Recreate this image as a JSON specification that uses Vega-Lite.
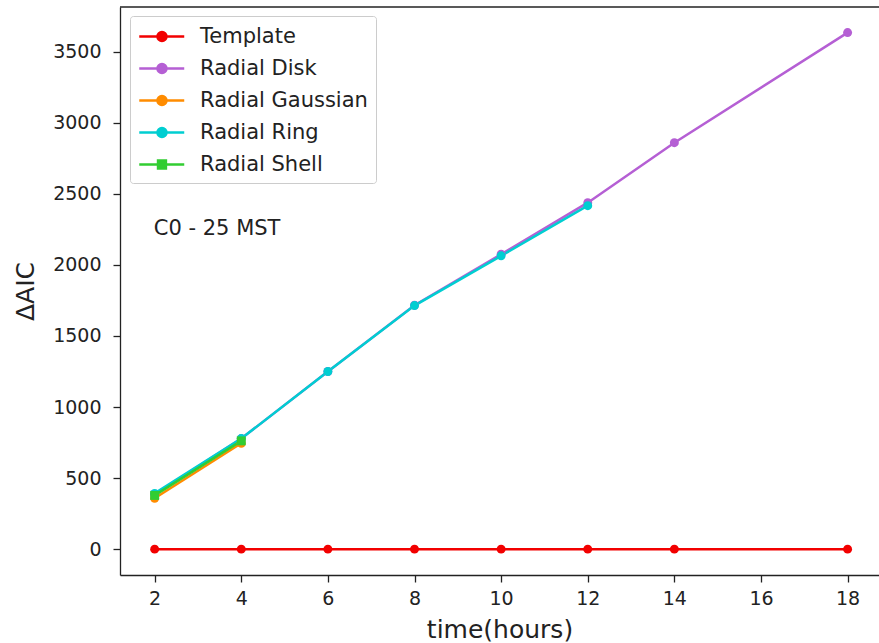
{
  "$schema": "https://vega.github.io/schema/vega-lite/v6.json",
  "autosize": {"type": "none"},
  "padding": {"left": 120, "top": 7, "right": 0, "bottom": 68},
  "width": 759,
  "height": 568,
  "config": {
    "view": {"stroke": null},
    "font": "DejaVu Sans",
    "axis": {
      "labelFont": "DejaVu Sans",
      "titleFont": "DejaVu Sans",
      "labelFontSize": 19,
      "labelColor": "#222",
      "titleColor": "#222",
      "titleFontWeight": "normal",
      "domainColor": "#222",
      "domainWidth": 1.3,
      "tickColor": "#222",
      "tickSize": 7,
      "tickWidth": 1.3,
      "grid": false
    }
  },
  "datasets": {
    "main": [
      {"time": 2, "daic": 0, "series": "Template"},
      {"time": 4, "daic": 0, "series": "Template"},
      {"time": 6, "daic": 0, "series": "Template"},
      {"time": 8, "daic": 0, "series": "Template"},
      {"time": 10, "daic": 0, "series": "Template"},
      {"time": 12, "daic": 0, "series": "Template"},
      {"time": 14, "daic": 0, "series": "Template"},
      {"time": 18, "daic": 0, "series": "Template"},
      {"time": 2, "daic": 385, "series": "Radial Disk"},
      {"time": 4, "daic": 778, "series": "Radial Disk"},
      {"time": 6, "daic": 1250, "series": "Radial Disk"},
      {"time": 8, "daic": 1716, "series": "Radial Disk"},
      {"time": 10, "daic": 2075, "series": "Radial Disk"},
      {"time": 12, "daic": 2438, "series": "Radial Disk"},
      {"time": 14, "daic": 2860, "series": "Radial Disk"},
      {"time": 18, "daic": 3635, "series": "Radial Disk"},
      {"time": 2, "daic": 358, "series": "Radial Gaussian"},
      {"time": 4, "daic": 745, "series": "Radial Gaussian"},
      {"time": 2, "daic": 392, "series": "Radial Ring"},
      {"time": 4, "daic": 778, "series": "Radial Ring"},
      {"time": 6, "daic": 1250, "series": "Radial Ring"},
      {"time": 8, "daic": 1714, "series": "Radial Ring"},
      {"time": 10, "daic": 2064, "series": "Radial Ring"},
      {"time": 12, "daic": 2417, "series": "Radial Ring"},
      {"time": 2, "daic": 378, "series": "Radial Shell"},
      {"time": 4, "daic": 762, "series": "Radial Shell"}
    ]
  },
  "layer": [
    {
      "data": {"values": [{"top": 3815}]},
      "mark": {"type": "rule", "color": "#222", "strokeWidth": 1.3},
      "encoding": {"y": {"field": "top", "type": "quantitative"}}
    },
    {
      "data": {"name": "main"},
      "mark": {"type": "line", "strokeWidth": 2.5},
      "encoding": {
        "x": {
          "field": "time", "type": "quantitative",
          "scale": {"domain": [1.2, 18.725], "nice": false, "zero": false},
          "axis": {"values": [2, 4, 6, 8, 10, 12, 14, 16, 18], "title": "time(hours)", "titleFontSize": 25, "titlePadding": 9, "labelPadding": 7}
        },
        "y": {
          "field": "daic", "type": "quantitative",
          "scale": {"domain": [-182, 3815], "nice": false, "zero": false},
          "axis": {"values": [0, 500, 1000, 1500, 2000, 2500, 3000, 3500], "format": "d", "title": "ΔAIC", "titleFontSize": 25, "titlePadding": 14, "labelPadding": 12}
        },
        "color": {
          "field": "series", "type": "nominal",
          "scale": {
            "domain": ["Template", "Radial Disk", "Radial Gaussian", "Radial Ring", "Radial Shell"],
            "range": ["#f20000", "#b55fd4", "#ff8c00", "#00ced1", "#32cd32"]
          },
          "legend": {
            "title": null,
            "orient": "none",
            "legendX": 10,
            "legendY": 9,
            "symbolType": "M-1,0H3M0.62,0A0.4,0.4,0,1,1,1.42,0A0.4,0.4,0,1,1,0.62,0Z",
            "symbolSize": 506,
            "symbolStrokeWidth": 2.5,
            "labelFontSize": 21,
            "labelFont": "DejaVu Sans",
            "labelColor": "#222",
            "labelOffset": 37,
            "labelLimit": 400,
            "rowPadding": 9,
            "padding": 8,
            "fillColor": "white",
            "strokeColor": "#cccccc",
            "cornerRadius": 3,
            "encode": {
              "symbols": {"update": {
                "fill": {"scale": "color", "field": "value"},
                "stroke": {"scale": "color", "field": "value"},
                "fillOpacity": {"value": 1},
                "strokeOpacity": {"value": 1},
                "shape": [
                  {"test": "datum.value === 'Radial Shell'", "value": "M-1,0H3M0.67,-0.36H1.37V0.36H0.67Z"},
                  {"value": "M-1,0H3M0.62,0A0.4,0.4,0,1,1,1.42,0A0.4,0.4,0,1,1,0.62,0Z"}
                ]
              }}
            }
          }
        },
        "order": {"field": "time", "type": "quantitative"}
      }
    },
    {
      "data": {"name": "main"},
      "transform": [{"filter": "datum.series != 'Radial Shell'"}],
      "mark": {"type": "circle", "opacity": 1, "size": 80},
      "encoding": {
        "x": {"field": "time", "type": "quantitative"},
        "y": {"field": "daic", "type": "quantitative"},
        "color": {"field": "series", "type": "nominal"}
      }
    },
    {
      "data": {"name": "main"},
      "transform": [{"filter": "datum.series == 'Radial Shell'"}],
      "mark": {"type": "square", "opacity": 1, "size": 80},
      "encoding": {
        "x": {"field": "time", "type": "quantitative"},
        "y": {"field": "daic", "type": "quantitative"},
        "color": {"field": "series", "type": "nominal"}
      }
    },
    {
      "data": {"values": [{"time": 1.98, "daic": 2250, "label": "C0 - 25 MST"}]},
      "mark": {"type": "text", "align": "left", "baseline": "middle", "fontSize": 21, "font": "DejaVu Sans", "color": "#222"},
      "encoding": {
        "x": {"field": "time", "type": "quantitative"},
        "y": {"field": "daic", "type": "quantitative"},
        "text": {"field": "label"}
      }
    }
  ]
}
